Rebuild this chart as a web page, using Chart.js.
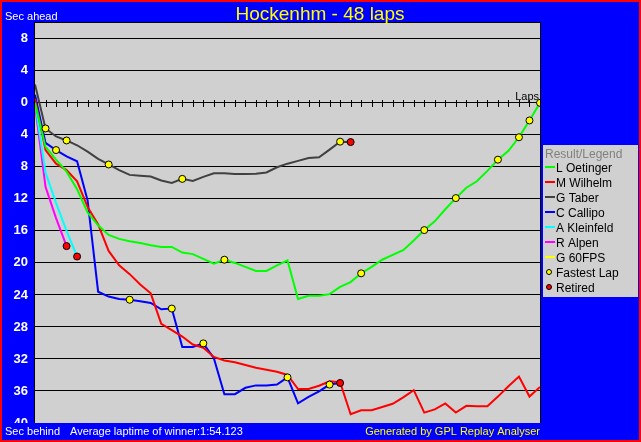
<!DOCTYPE html>
<html>
<head>
<meta charset="utf-8">
<title>Hockenhm - 48 laps</title>
<script src="https://cdn.jsdelivr.net/npm/chart.js@4.4.1/dist/chart.umd.min.js"></script>
<style>
  html, body { margin: 0; padding: 0; background: #0000ff; overflow: hidden; }
  #lapChart { display: block; }
</style>
</head>
<body>
<canvas id="lapChart" width="641" height="442"></canvas>
<script>
// gap to the winner's average pace, in seconds (positive = ahead, negative = behind)
const laps = [0, 1, 2, 3, 4, 5, 6, 7, 8, 9, 10, 11, 12, 13, 14, 15, 16, 17, 18, 19, 20, 21, 22, 23, 24,
  25, 26, 27, 28, 29, 30, 31, 32, 33, 34, 35, 36, 37, 38, 39, 40, 41, 42, 43, 44, 45, 46, 47, 48];
const yTicks = [8, 4, 0, -4, -8, -12, -16, -20, -24, -28, -32, -36, -40];

const drivers = ['L Oetinger', 'M Wilhelm', 'G Taber', 'C Callipo', 'A Kleinfeld', 'R Alpen', 'G 60FPS'];

const oetinger = [0, -5.5, -7.1, -8.6, -10.8, -13.7, -15.3, -16.5, -17.0, -17.3, -17.5, -17.8, -18.0, -18.0,
  -18.7, -18.9, -19.5, -20.1, -19.6, -20.0, -20.5, -21.0, -21.0, -20.3, -19.7, -24.5, -24.1, -24.1, -23.9,
  -23.0, -22.4, -21.3, -20.5, -19.6, -19.0, -18.4, -17.2, -15.9, -14.8, -13.3, -11.9, -10.6, -9.8, -8.5,
  -7.1, -6.0, -4.3, -2.2, 0];
const wilhelm = [0.5, -5.9, -7.6, -8.4, -9.8, -13.0, -15.2, -18.5, -20.3, -21.4, -22.7, -23.8, -27.6, -28.4,
  -29.2, -30.2, -30.6, -31.75, -32.2, -32.4, -32.75, -33.1, -33.35, -33.6, -34.0, -35.75, -35.75, -35.35,
  -34.8, -34.9, -38.9, -38.4, -38.4, -38.0, -37.6, -36.8, -35.9, -38.7, -38.3, -37.55, -38.7, -37.85,
  -37.9, -37.9, -36.7, -35.4, -34.2, -36.7, -35.5];
const taber = [2.3, -3.2, -4.2, -4.7, -5.3, -6.1, -7.0, -7.7, -8.4, -9.0, -9.1, -9.2, -9.7, -10.0, -9.5,
  -9.75, -9.25, -8.8, -8.8, -8.9, -8.9, -8.85, -8.7, -8.05, -7.6, -7.25, -6.9, -6.8, -5.85, -4.85, -4.9];
const callipo = [1.0, -5.0, -5.9, -6.7, -7.3, -12.2, -23.6, -24.2, -24.5, -24.6, -24.8, -25.0, -25.8, -25.7,
  -30.5, -30.5, -30.05, -31.9, -36.4, -36.4, -35.6, -35.3, -35.3, -35.2, -34.3, -37.55, -36.75, -36.05,
  -35.2, -35.0];
const kleinfeld = [0.0, -8.7, -12.5, -16.0, -19.2];
const alpen = [-0.3, -10.5, -14.4, -17.9];
const fps60 = [];

const fastLapLaps = [1, 3, 7, 14, 29, 2, 9, 13, 16, 24, 28, 18, 31, 37, 40, 44, 46, 47, 48];
const fastLapSecs = [-3.2, -4.7, -7.7, -9.5, -4.85, -5.9, -24.6, -25.7, -30.05, -34.3, -35.2,
  -19.6, -21.3, -15.9, -11.9, -7.1, -4.3, -2.2, 0];
const retiredLaps = [3, 4, 29, 30];
const retiredSecs = [-17.9, -19.2, -35.0, -4.9];

const seriesList = [oetinger, wilhelm, taber, callipo, kleinfeld, alpen, fps60];
const lineColors = ['#00ff00', '#ff0000', '#404040', '#0000ff', '#00ffff', '#ff00ff', '#ffff00'];
const FONT = "'Liberation Sans', Arial, sans-serif";

const toPoints = (xs, ys) => ys.map((v, i) => ({ x: xs[i], y: v }));

const datasets = seriesList.map((s, i) => ({
  label: drivers[i],
  data: toPoints(laps, s),
  borderColor: lineColors[i],
  backgroundColor: lineColors[i],
  borderWidth: 2,
  pointRadius: 0,
  tension: 0,
  fill: false,
  order: 2
}));
datasets.push({
  label: 'Fastest Lap',
  data: toPoints(fastLapLaps, fastLapSecs),
  showLine: false,
  pointRadius: 3.5,
  pointBackgroundColor: '#ffff00',
  pointBorderColor: '#000000',
  pointBorderWidth: 1,
  order: 0
});
datasets.push({
  label: 'Retired',
  data: toPoints(retiredLaps, retiredSecs),
  showLine: false,
  pointRadius: 3.5,
  pointBackgroundColor: '#ff0000',
  pointBorderColor: '#000000',
  pointBorderWidth: 1,
  order: 0
});

// backgrounds, lap ticks, frame texts and the legend box
const framePlugin = {
  id: 'frame',
  beforeDraw(chart) {
    const { ctx, chartArea: a } = chart;
    ctx.save();
    ctx.fillStyle = '#0000ff';
    ctx.fillRect(0, 0, chart.width, chart.height);
    ctx.fillStyle = '#d0d0d0';
    ctx.fillRect(a.left, a.top, a.right - a.left, a.bottom - a.top);
    ctx.restore();
  },
  beforeDatasetsDraw(chart) {
    const { ctx, chartArea: a, scales } = chart;
    const y0 = Math.round(scales.y.getPixelForValue(0));
    ctx.save();
    ctx.strokeStyle = '#000';
    ctx.lineWidth = 1;
    ctx.beginPath();
    laps.slice(1).forEach(l => {
      const x = Math.round(scales.x.getPixelForValue(l)) + 0.5;
      ctx.moveTo(x, y0 - 3);
      ctx.lineTo(x, y0 + 4);
    });
    ctx.moveTo(a.left - 0.5, a.top + 0.5);
    ctx.lineTo(a.right + 0.5, a.top + 0.5);
    ctx.moveTo(a.left - 0.5, a.top);
    ctx.lineTo(a.left - 0.5, a.bottom);
    ctx.moveTo(a.right + 0.5, a.top);
    ctx.lineTo(a.right + 0.5, a.bottom);
    ctx.stroke();
    ctx.fillStyle = '#000';
    ctx.font = '11px ' + FONT;
    ctx.textAlign = 'right';
    ctx.textBaseline = 'alphabetic';
    ctx.fillText('Laps', a.right - 1, y0 - 3);
    ctx.restore();
  },
  afterDraw(chart) {
    const { ctx, chartArea: a } = chart;
    ctx.save();
    // footer band
    ctx.fillStyle = '#0000ff';
    ctx.fillRect(0, a.bottom, chart.width, chart.height - a.bottom);
    ctx.textBaseline = 'alphabetic';
    ctx.font = '11px ' + FONT;
    ctx.fillStyle = '#ffffff';
    ctx.textAlign = 'left';
    ctx.fillText('Sec ahead', 5, 20);
    ctx.fillText('Sec behind', 5, 435);
    ctx.fillText('Average laptime of winner:1:54.123', 70, 435);
    ctx.fillStyle = '#ffff00';
    ctx.textAlign = 'right';
    ctx.fillText('Generated by GPL Replay Analyser', a.right, 435);
    ctx.font = '19px ' + FONT;
    ctx.textAlign = 'center';
    ctx.fillText('Hockenhm - 48 laps', 320, 20);

    // legend
    const lx = 543, ly = 145, lw = 95, lh = 152;
    ctx.fillStyle = '#d0d0d0';
    ctx.fillRect(lx, ly, lw, lh);
    ctx.textAlign = 'left';
    ctx.font = '12px ' + FONT;
    ctx.fillStyle = '#808080';
    ctx.fillText('Result/Legend', lx + 2, ly + 13);
    chart.data.datasets.forEach((ds, i) => {
      const cy = ly + 22 + i * 15;
      if (ds.showLine === false) {
        ctx.beginPath();
        ctx.arc(lx + 6, cy, 2.5, 0, Math.PI * 2);
        ctx.fillStyle = ds.pointBackgroundColor;
        ctx.fill();
        ctx.strokeStyle = '#000';
        ctx.lineWidth = 1;
        ctx.stroke();
      } else {
        ctx.fillStyle = ds.borderColor;
        ctx.fillRect(lx + 2, cy - 1, 10, 2);
      }
      ctx.fillStyle = '#000';
      ctx.fillText(ds.label, lx + 13, cy + 4.5);
    });

    // outer red frame
    ctx.strokeStyle = '#ff0000';
    ctx.lineWidth = 2;
    ctx.strokeRect(1, 1, chart.width - 2, chart.height - 2);
    ctx.restore();
  }
};

new Chart(document.getElementById('lapChart'), {
  type: 'line',
  data: { datasets },
  options: {
    responsive: false,
    animation: false,
    layout: { padding: { left: 0, top: 22, right: 101, bottom: 19 } },
    plugins: {
      legend: { display: false },
      title: { display: false },
      tooltip: { enabled: false }
    },
    scales: {
      x: { type: 'linear', min: 0, max: 48, display: false },
      y: {
        type: 'linear',
        min: -40,
        max: 10.1,
        afterBuildTicks: axis => { axis.ticks = yTicks.map(v => ({ value: v })); },
        afterFit: axis => { axis.width = 35; },
        border: { display: false },
        grid: { color: '#000000', lineWidth: 1, drawTicks: false },
        ticks: {
          autoSkip: false,
          padding: 7,
          color: '#ffffff',
          font: { family: FONT, size: 13, weight: 'bold' },
          callback: v => Math.abs(v)
        }
      }
    }
  },
  plugins: [framePlugin]
});
</script>
</body>
</html>
